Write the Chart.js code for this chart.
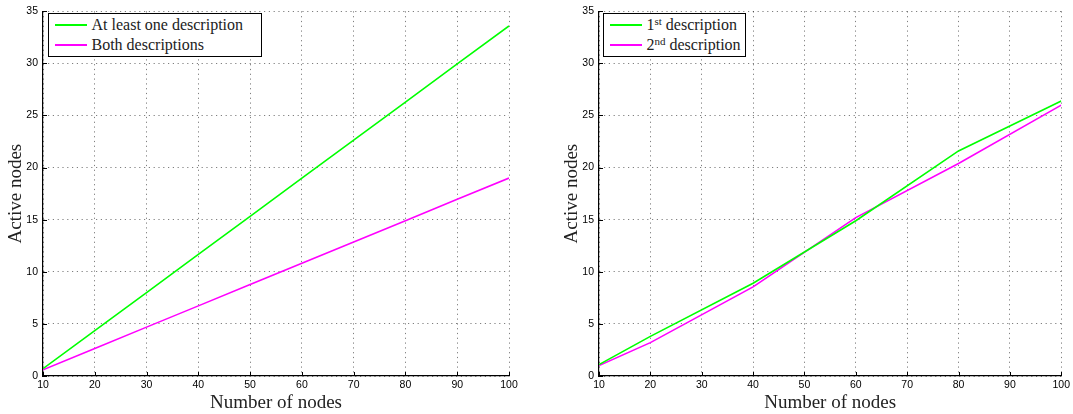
<!DOCTYPE html>
<html>
<head>
<meta charset="utf-8">
<script src="https://cdn.jsdelivr.net/npm/chart.js@4.4.1/dist/chart.umd.min.js"></script>
<style>
  body { margin: 0; background: #fff; width: 1073px; height: 414px; position: relative; overflow: hidden; }
  canvas { position: absolute; top: 0; }
  .legend { position: absolute; top: 13px; height: 44px; box-sizing: border-box; background: #fff;
            border: 1.5px solid #000; padding: 1px 0 0 5.5px;
            font-family: "Liberation Serif", "DejaVu Serif", serif; font-size: 16px; color: #222; }
  .legend .row { display: flex; align-items: center; height: 20px; white-space: nowrap; }
  .legend .swatch { display: inline-block; width: 32px; height: 1.6px; margin-right: 5px; }
  sup { font-size: 11px; line-height: 0; vertical-align: 5px; }
</style>
</head>
<body>
<canvas id="left" width="536" height="414" style="left:0"></canvas>
<canvas id="right" width="517" height="414" style="left:556px"></canvas>

<div class="legend" style="left:48px;width:214px">
  <div class="row"><span class="swatch" style="background:#00ff00"></span><span>At least one description</span></div>
  <div class="row"><span class="swatch" style="background:#ff00ff"></span><span>Both descriptions</span></div>
</div>
<div class="legend" style="left:603px;width:143px">
  <div class="row"><span class="swatch" style="background:#00ff00"></span><span>1<sup>st</sup> description</span></div>
  <div class="row"><span class="swatch" style="background:#ff00ff"></span><span>2<sup>nd</sup> description</span></div>
</div>

<script>
// left plot
const nodesLeft = [10, 20, 30, 40, 50, 60, 70, 80, 90, 100];
const atLeastOne = [0.70, 4.36, 8.01, 11.67, 15.32, 18.98, 22.64, 26.29, 29.95, 33.60];
const bothDesc = [0.60, 2.64, 4.69, 6.73, 8.78, 10.82, 12.87, 14.91, 16.96, 19.00];

// right plot
const nodesRight = [10, 20, 40, 60, 80, 100];
const firstDesc = [1.1, 3.8, 8.9, 14.9, 21.6, 26.4];
const secondDesc = [1.0, 3.2, 8.55, 15.2, 20.4, 26.0];

const xTicks = [10, 20, 30, 40, 50, 60, 70, 80, 90, 100];
const yTicks = [0, 5, 10, 15, 20, 25, 30, 35];

const GREEN = '#00ff00';
const MAGENTA = '#ff00ff';

// matlab style ticks pointing into the plot
const inwardTicks = {
    id: 'inwardTicks',
    afterDraw(chart) {
        const { ctx, chartArea: a, scales: { x, y } } = chart;
        ctx.save();
        ctx.strokeStyle = '#000';
        ctx.lineWidth = 1;
        ctx.beginPath();
        x.ticks.forEach(t => {
            const px = Math.round(x.getPixelForValue(t.value)) + 0.5;
            ctx.moveTo(px, a.bottom);
            ctx.lineTo(px, a.bottom - 4);
        });
        y.ticks.forEach(t => {
            const py = Math.round(y.getPixelForValue(t.value)) + 0.5;
            ctx.moveTo(a.left, py);
            ctx.lineTo(a.left + 4, py);
        });
        ctx.stroke();
        ctx.restore();
    }
};

const pts = (xs, ys) => xs.map((x, i) => ({ x, y: ys[i] }));

const line = (data, color) => ({
    data,
    borderColor: color,
    borderWidth: 1.6,
    pointRadius: 0,
    tension: 0,
    fill: false
});

const gridOpts = { color: 'rgba(0,0,0,0.5)', lineWidth: 1, drawTicks: false };
const borderOpts = { display: true, color: '#000', width: 1.2, dash: [1.2, 3.6] };
const tickFont = { family: '"Liberation Sans", Arial, sans-serif', size: 10.5 };
const titleFont = { family: '"Liberation Serif", serif', size: 19 };

function makeChart(id, datasets, padRight) {
    return new Chart(document.getElementById(id), {
        type: 'line',
        data: { datasets },
        options: {
            responsive: false,
            animation: false,
            layout: { padding: { top: 8, right: padRight, left: 0, bottom: 0 } },
            plugins: { legend: { display: false }, tooltip: { enabled: false } },
            scales: {
                x: {
                    type: 'linear',
                    min: 10, max: 100,
                    afterBuildTicks: s => { s.ticks = xTicks.map(v => ({ value: v })); },
                    afterFit: s => { s.height = 38; },
                    grid: gridOpts,
                    border: borderOpts,
                    ticks: { color: '#000', font: tickFont, padding: 3, maxRotation: 0 },
                    title: { display: true, text: 'Number of nodes', color: '#222', font: titleFont, padding: { top: 0, bottom: 0 } }
                },
                y: {
                    min: 0, max: 35,
                    afterBuildTicks: s => { s.ticks = yTicks.map(v => ({ value: v })); },
                    afterFit: s => { s.width = 43; },
                    grid: gridOpts,
                    border: borderOpts,
                    ticks: { color: '#000', font: tickFont, padding: 5 },
                    title: { display: true, text: 'Active nodes', color: '#222', font: titleFont, padding: { top: 5, bottom: 0 } }
                }
            }
        },
        plugins: [inwardTicks]
    });
}

makeChart('left', [
    line(pts(nodesLeft, atLeastOne), GREEN),
    line(pts(nodesLeft, bothDesc), MAGENTA)
], 27);

makeChart('right', [
    line(pts(nodesRight, firstDesc), GREEN),
    line(pts(nodesRight, secondDesc), MAGENTA)
], 8);
</script>
</body>
</html>
